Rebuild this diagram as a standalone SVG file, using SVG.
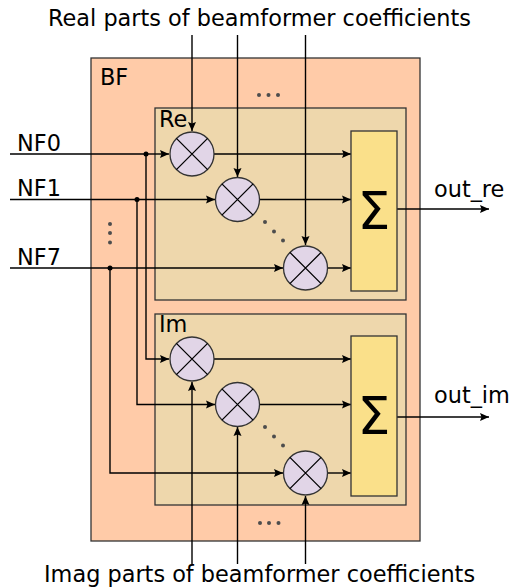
<svg xmlns="http://www.w3.org/2000/svg" width="511" height="588" viewBox="0 0 511 588">
<style>
text{font-family:"DejaVu Sans",sans-serif;font-size:22.400px;fill:#000}
.c{fill:none;stroke:#000;stroke-width:1.4}
.a{marker-end:url(#ah)}
.m{fill:#e1d5e7;stroke:#333;stroke-width:1.3}
.x{stroke:#000;stroke-width:1.3;fill:none}
.box{stroke:#333;stroke-width:1.3}
.d{fill:#4d4d4d}
.j{fill:#000}
</style>
<defs>
<marker id="ah" markerUnits="userSpaceOnUse" markerWidth="12" markerHeight="10" refX="9" refY="4" orient="auto" overflow="visible"><path d="M0 0L9 4L0 8L1.500 4Z" fill="#000"/></marker>
<g id="mul"><circle r="22" class="m"/><path class="x" d="M-15.600 -15.600L15.600 15.600M-15.600 15.600L15.600 -15.600"/></g>
</defs>
<g id="BF"><rect x="91" y="58" width="329" height="483" fill="#ffcba8" class="box"/><text x="100" y="85">BF</text>
<circle class="d" cx="259" cy="95" r="2"/><circle class="d" cx="268.500" cy="95" r="2"/><circle class="d" cx="278" cy="95" r="2"/>
<circle class="d" cx="110" cy="224" r="2"/><circle class="d" cx="110" cy="233" r="2"/><circle class="d" cx="110" cy="242.500" r="2"/>
<circle class="d" cx="260" cy="523" r="2"/><circle class="d" cx="269" cy="523" r="2"/><circle class="d" cx="278.500" cy="523" r="2"/></g>
<g id="Re"><rect x="155" y="108" width="251" height="192" fill="#eed7ac" class="box"/><text x="159" y="127">Re</text>
<circle class="d" cx="265" cy="222" r="2"/><circle class="d" cx="274" cy="231.500" r="2"/><circle class="d" cx="283" cy="240.500" r="2"/></g>
<g id="Im"><rect x="155" y="314" width="251" height="191" fill="#eed7ac" class="box"/><text x="159" y="332">Im</text>
<circle class="d" cx="265" cy="427" r="2"/><circle class="d" cx="274" cy="436.500" r="2"/><circle class="d" cx="283" cy="445.500" r="2"/></g>
<g id="connectors">
<path class="c" d="M10 154H146V359H169" marker-end="url(#ah)"/>
<path class="c" d="M10 199.500H137V404.500H215" marker-end="url(#ah)"/>
<path class="c" d="M10 268H110V473H283" marker-end="url(#ah)"/>
<path class="c a" d="M146 154H169"/>
<path class="c a" d="M137 199.500H215"/>
<path class="c a" d="M110 268H283"/>
<circle class="j" cx="146" cy="154" r="2.500"/><circle class="j" cx="137" cy="199.500" r="2.500"/><circle class="j" cx="110" cy="268" r="2.500"/>
<path class="c a" d="M192 35V131"/><path class="c a" d="M237.500 35V177"/><path class="c a" d="M305.500 35V245"/>
<path class="c a" d="M192 564V382"/><path class="c a" d="M237.500 564V427"/><path class="c a" d="M305.500 564V496"/>
<path class="c a" d="M214 154H351"/><path class="c a" d="M260 199.500H351"/><path class="c a" d="M328 268H351"/>
<path class="c a" d="M214 359H351"/><path class="c a" d="M260 404.500H351"/><path class="c a" d="M328 473H351"/>
<path class="c a" d="M397 209H489"/><path class="c a" d="M397 417H489"/>
</g>
<g id="mul-re-0"><use href="#mul" x="192" y="154"/></g>
<g id="mul-re-1"><use href="#mul" x="237.500" y="199.500"/></g>
<g id="mul-re-7"><use href="#mul" x="305.500" y="268"/></g>
<g id="mul-im-0"><use href="#mul" x="192" y="359"/></g>
<g id="mul-im-1"><use href="#mul" x="237.500" y="404.500"/></g>
<g id="mul-im-7"><use href="#mul" x="305.500" y="473"/></g>
<g id="sum-re"><rect x="351" y="131" width="46" height="160" fill="#fae08a" class="box"/><text x="374" y="228.500" text-anchor="middle" style="font-size:52px">Σ</text></g>
<g id="sum-im"><rect x="351" y="336" width="46" height="160" fill="#fae08a" class="box"/><text x="374" y="433.500" text-anchor="middle" style="font-size:52px">Σ</text></g>
<g id="labels">
<text x="17" y="151">NF0</text><text x="17" y="196">NF1</text><text x="17" y="265">NF7</text>
<text x="434" y="197">out_re</text><text x="434" y="403">out_im</text>
<text x="48" y="26">Real parts of beamformer coefficients</text>
<text x="44" y="582">Imag parts of beamformer coefficients</text>
</g>
</svg>
